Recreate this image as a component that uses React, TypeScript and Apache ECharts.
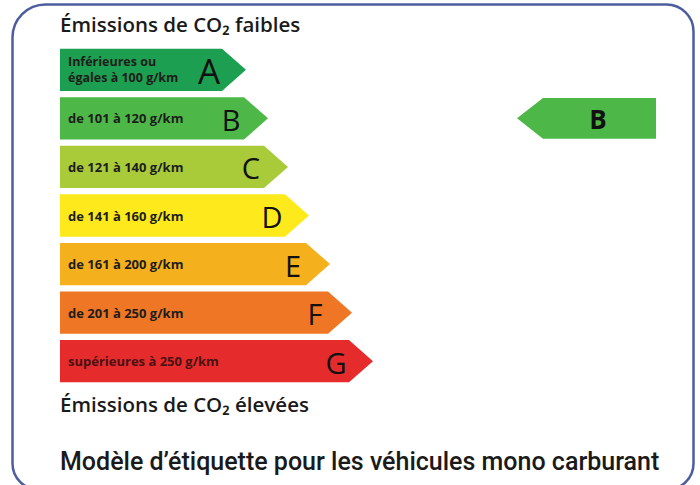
import React, { useEffect, useRef } from "react";
import * as echarts from "echarts";

const grades = ["A", "B", "C", "D", "E", "F", "G"];
const rangeLabels = [
  "Inférieures ou\négales à 100 g/km",
  "de 101 à 120 g/km",
  "de 121 à 140 g/km",
  "de 141 à 160 g/km",
  "de 161 à 200 g/km",
  "de 201 à 250 g/km",
  "supérieures à 250 g/km",
];
const arrowLengths = [186, 208, 228, 249, 270, 292, 313];
const gradeColors = ["#1d9f51", "#4db848", "#a9cb3a", "#fde91c", "#f5b01e", "#ee7625", "#e62b2d"];
const labelColors = ["#1d1d1b", "#1d1d1b", "#1d1d1b", "#1d1d1b", "#1d1d1b", "#1d1d1b", "#4a1212"];
const currentGrade = "B";
const indicatorStart = 457;
const indicatorEnd = 596;
const titleTop = "Émissions de CO₂ faibles";
const titleBottom = "Émissions de CO₂ élevées";
const caption = "Modèle d’étiquette pour les véhicules mono carburant";

export default function App() {
  const ref = useRef<HTMLDivElement>(null);
  useEffect(() => {
    if (!ref.current) return;
    const chart = echarts.init(ref.current, null, { renderer: "svg" });
    const curIdx = grades.indexOf(currentGrade);
    const option: any = {
      animation: false,
      backgroundColor: "#ffffff",
      grid: { left: 60, right: 0, top: 45.5, height: 340 },
      xAxis: { type: "value", min: 0, max: 640, show: false },
      yAxis: { type: "category", data: grades, inverse: true, show: false },
      graphic: [
        {
          type: "rect",
          shape: { x: 12.5, y: 4.5, width: 681, height: 485, r: [33, 27, 26, 26] },
          style: { fill: "none", stroke: "#4d5d9d", lineWidth: 2.5 },
          z: 10,
        },
        {
          type: "text",
          left: 60,
          top: 13,
          style: { text: titleTop, font: "600 20.5px 'Open Sans'", fill: "#1a1a1a" },
        },
        {
          type: "text",
          left: 60,
          top: 393,
          style: { text: titleBottom, font: "600 20.5px 'Open Sans'", fill: "#1a1a1a" },
        },
        {
          type: "text",
          left: 60,
          top: 449,
          style: { text: caption, font: "500 25px 'Roboto'", fill: "#1a1a1a" },
        },
      ],
      series: [
        {
          type: "custom",
          data: grades.map((g, i) => [i, arrowLengths[i]]),
          renderItem: (params: any, api: any) => {
            const idx = api.value(0);
            const len = api.value(1);
            const s = api.coord([0, idx]);
            const e = api.coord([len, idx]);
            const band = api.size([0, 1])[1];
            const h = band * 0.87;
            const cy = s[1];
            const d = 24;
            const lines = rangeLabels[idx].split("\n");
            const labelTexts = lines.map((line: string, k: number) => ({
              type: "text",
              x: s[0] + 8,
              y: cy + (k - (lines.length - 1) / 2) * 16,
              style: {
                text: line,
                font: lines.length > 1 ? "700 12.5px 'Open Sans'" : "700 13px 'Open Sans'",
                fill: labelColors[idx],
                textAlign: "left",
                textVerticalAlign: "middle",
              },
            }));
            return {
              type: "group",
              children: [
                {
                  type: "polygon",
                  shape: {
                    points: [
                      [s[0], cy - h / 2],
                      [e[0] - d, cy - h / 2],
                      [e[0], cy],
                      [e[0] - d, cy + h / 2],
                      [s[0], cy + h / 2],
                    ],
                  },
                  style: { fill: gradeColors[idx] },
                },
                ...labelTexts,
                {
                  type: "text",
                  x: e[0] - 37,
                  y: cy + 1,
                  style: {
                    text: grades[idx],
                    font: idx === 0 ? "500 35px 'Open Sans'" : "500 29px 'Open Sans'",
                    fill: "#111111",
                    textAlign: "center",
                    textVerticalAlign: "middle",
                  },
                },
              ],
            };
          },
        },
        {
          type: "custom",
          data: [[curIdx, indicatorStart, indicatorEnd]],
          renderItem: (params: any, api: any) => {
            const idx = api.value(0);
            const a = api.coord([api.value(1), idx]);
            const b = api.coord([api.value(2), idx]);
            const band = api.size([0, 1])[1];
            const h = band * 0.84;
            const cy = a[1];
            const d = 26;
            return {
              type: "group",
              children: [
                {
                  type: "polygon",
                  shape: {
                    points: [
                      [a[0], cy],
                      [a[0] + d, cy - h / 2],
                      [b[0], cy - h / 2],
                      [b[0], cy + h / 2],
                      [a[0] + d, cy + h / 2],
                    ],
                  },
                  style: { fill: gradeColors[idx] },
                },
                {
                  type: "text",
                  x: a[0] + 81,
                  y: cy + 1,
                  style: {
                    text: grades[idx],
                    font: "700 26px 'Open Sans'",
                    fill: "#111111",
                    textAlign: "center",
                    textVerticalAlign: "middle",
                  },
                },
              ],
            };
          },
        },
      ],
    };
    chart.setOption(option);
    return () => chart.dispose();
  }, []);
  return (
    <div
      ref={ref}
      style={{ position: "fixed", left: 0, top: 0, width: 700, height: 485 }}
    />
  );
}
